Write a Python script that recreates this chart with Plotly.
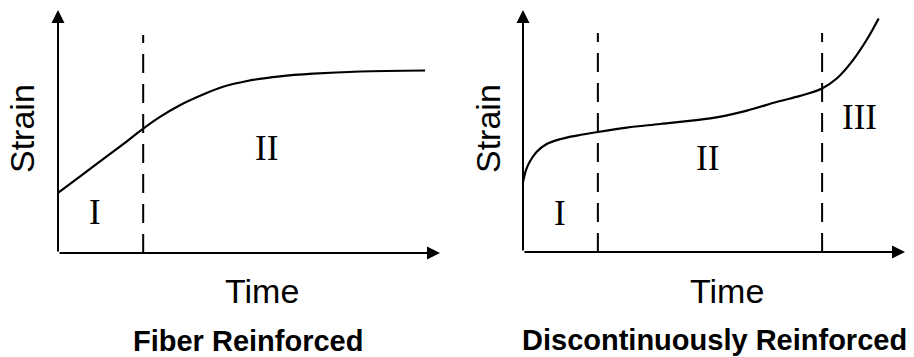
import plotly.graph_objects as go

W, H = 914, 357

# Fiber reinforced creep curve (arbitrary time / strain units)
FIBER_TIME   = [0.0, 0.58, 1.10, 1.68, 2.23, 2.67, 3.19, 3.72, 4.32, 4.95, 5.81, 6.68, 7.91, 9.61]
FIBER_STRAIN = [2.47, 3.15, 3.77, 4.45, 5.12, 5.60, 6.08, 6.47, 6.84, 7.08, 7.27, 7.38, 7.47, 7.51]
FIBER_BOUNDS = [2.23]

# Discontinuously reinforced creep curve
DISC_TIME   = [0.0, 0.08, 0.18, 0.36, 0.62, 0.97, 1.41, 1.96, 2.72, 3.59, 4.90,
               5.76, 6.68, 7.25, 7.83, 8.22, 8.64, 9.01, 9.31]
DISC_STRAIN = [2.89, 3.39, 3.74, 4.14, 4.46, 4.66, 4.81, 4.96, 5.14, 5.29, 5.52,
               5.80, 6.22, 6.45, 6.76, 7.18, 7.93, 8.80, 9.65]
DISC_BOUNDS = [1.96, 7.83]

# Stage labels: (text, time, strain)
FIBER_STAGES = [("I", 0.97, 1.65), ("II", 5.45, 4.32)]
DISC_STAGES  = [("I", 0.97, 1.61), ("II", 4.82, 3.88), ("III", 8.82, 5.54)]

TITLES = ["Fiber Reinforced", "Discontinuously Reinforced"]

SANS  = "Liberation Sans, Arial, sans-serif"
SERIF = "Liberation Serif, Times New Roman, serif"


def px(x, y):
    return x / W, 1 - y / H


fig = go.Figure()

panels = [
    # axes suffix, curve, bounds, stages, x-domain px, y-domain px, dashed top,
    # strain label px, time label px, title px, title
    ("", FIBER_TIME, FIBER_STRAIN, FIBER_BOUNDS, FIBER_STAGES, (58, 440), (253, 10), 8.97,
     (22, 129), (262, 291), (248, 341), TITLES[0]),
    ("2", DISC_TIME, DISC_STRAIN, DISC_BOUNDS, DISC_STAGES, (523, 905), (252, 10), 9.05,
     (488, 129), (727, 291), (714, 340), TITLES[1]),
]

for sfx, tx, sy, bounds, stages, xd, yd, btop, strain_pos, time_pos, title_pos, title in panels:
    xr, yr = "x" + sfx, "y" + sfx

    fig.add_trace(go.Scatter(
        x=tx, y=sy, mode="lines",
        line=dict(color="black", width=2.2, shape="spline", smoothing=1.0),
        xaxis=xr, yaxis=yr, showlegend=False, hoverinfo="skip",
    ))
    for b in bounds:
        fig.add_trace(go.Scatter(
            x=[b, b], y=[0, btop], mode="lines",
            line=dict(color="black", width=2, dash="19px,11px"),
            xaxis=xr, yaxis=yr, showlegend=False, hoverinfo="skip",
        ))

    # axes with arrow heads
    for (x0, y0, x1, y1) in [(0, 0, 10, 0), (0, 0, 0, 10)]:
        fig.add_annotation(
            x=x1, y=y1, ax=x0, ay=y0, xref=xr, yref=yr, axref=xr, ayref=yr,
            text="", showarrow=True, arrowhead=2, arrowsize=1.3, arrowwidth=2,
            arrowcolor="black", standoff=0,
        )

    for txt, sx, syy in stages:
        fig.add_annotation(x=sx, y=syy, xref=xr, yref=yr, text=txt, showarrow=False,
                           xanchor="center", yanchor="middle",
                           font=dict(family=SERIF, size=35, color="black"))

    ax_, ay_ = px(*strain_pos)
    fig.add_annotation(x=ax_, y=ay_, xref="paper", yref="paper", text="Strain",
                       textangle=-90, showarrow=False, xanchor="center", yanchor="middle",
                       font=dict(family=SANS, size=34, color="black"))
    ax_, ay_ = px(*time_pos)
    fig.add_annotation(x=ax_, y=ay_, xref="paper", yref="paper", text="Time",
                       showarrow=False, xanchor="center", yanchor="middle",
                       font=dict(family=SANS, size=34, color="black"))
    ax_, ay_ = px(*title_pos)
    fig.add_annotation(x=ax_, y=ay_, xref="paper", yref="paper", text=f"<b>{title}</b>",
                       showarrow=False, xanchor="center", yanchor="middle",
                       font=dict(family=SANS, size=29, color="black"))

    axis_style = dict(visible=False, range=[0, 10], fixedrange=True)
    fig.update_layout({
        "xaxis" + sfx: dict(axis_style, domain=[xd[0] / W, xd[1] / W], anchor=yr),
        "yaxis" + sfx: dict(axis_style, domain=[1 - yd[0] / H, 1 - yd[1] / H], anchor=xr),
    })

fig.update_layout(
    width=W, height=H,
    margin=dict(l=0, r=0, t=0, b=0),
    plot_bgcolor="white", paper_bgcolor="white",
    showlegend=False,
)

# drop the default body margin so the figure sits at the page's top-left corner
fig.write_html("out.html", config={"displayModeBar": False},
               post_script="document.body.style.margin='0';")
